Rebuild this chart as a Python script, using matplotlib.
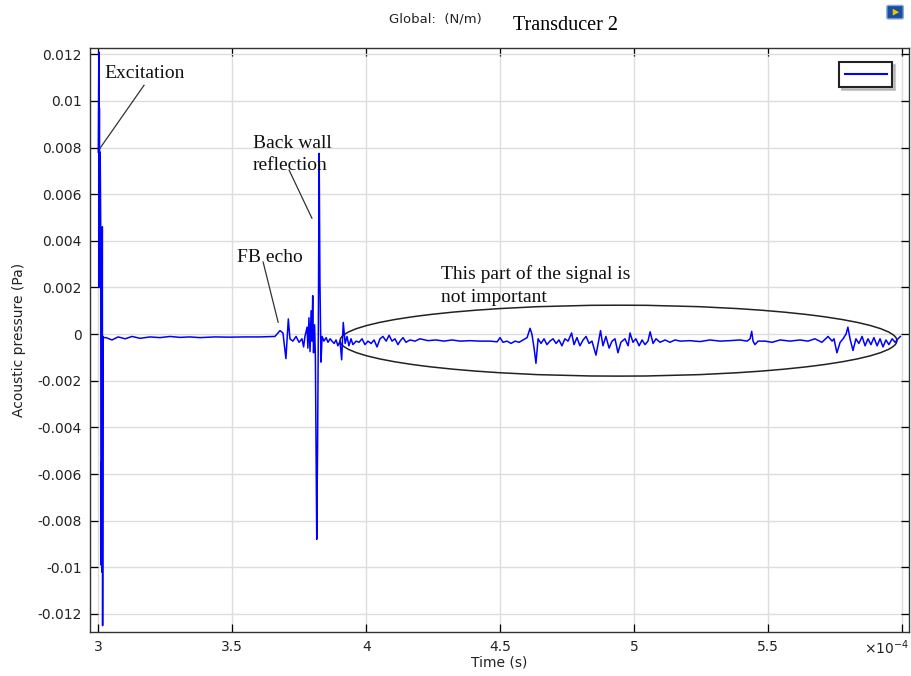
import matplotlib
matplotlib.use("Agg")
import matplotlib.pyplot as plt
from matplotlib.patches import Ellipse, FancyBboxPatch, Polygon
from matplotlib.lines import Line2D
from matplotlib.ticker import FuncFormatter, MultipleLocator

plt.rcParams['axes.unicode_minus'] = False
plt.rcParams['mathtext.fontset'] = 'dejavusans'

# time in microseconds, pressure in mPa
time_us = [300.0, 300.2, 300.3, 300.4, 300.5, 300.7, 300.9, 301.0, 301.1, 301.3,
           301.5, 301.6, 301.8, 301.9, 302.9, 305.1, 307.4, 310.0, 312.6, 315.6,
           319.3, 323.0, 326.8, 330.5, 334.2, 337.9, 343.5, 349.1, 354.7, 360.3,
           365.9, 367.8, 368.9, 370.0, 370.9, 371.5, 372.6, 373.8, 374.9, 376.0,
           376.6, 377.1, 377.9, 378.2, 378.6, 379.0, 379.4, 379.7, 380.0, 380.3,
           380.7, 381.0, 381.5, 381.8, 382.1, 382.4, 382.7, 383.1, 383.5, 384.2,
           385.0, 385.7, 386.5, 387.2, 388.0, 388.7, 389.4, 390.2, 390.8, 391.4,
           392.1, 392.8, 393.5, 394.3, 395.0, 396.2, 397.3, 398.4, 399.5, 400.6,
           401.8, 402.9, 404.0, 405.1, 406.2, 407.4, 408.5, 409.6, 410.7, 411.8,
           412.6, 413.7, 414.8, 416.3, 418.2, 420.0, 423.0, 426.0, 429.0, 432.0,
           435.0, 438.7, 442.4, 446.2, 448.8, 449.9, 451.0, 452.5, 454.0, 455.5,
           457.0, 458.5, 460.0, 461.1, 461.8, 462.6, 463.3, 464.1, 465.2, 466.3,
           467.4, 468.5, 469.7, 470.8, 471.9, 473.0, 474.1, 475.3, 476.6, 477.5,
           478.6, 479.7, 480.9, 482.0, 483.1, 484.2, 485.7, 486.5, 487.4, 488.3,
           489.4, 490.6, 491.7, 492.8, 493.9, 495.0, 496.5, 497.7, 498.4, 499.5,
           500.6, 501.8, 502.9, 504.0, 505.1, 505.9, 507.0, 508.1, 509.6, 511.5,
           513.3, 515.2, 517.1, 520.8, 524.5, 528.2, 532.0, 535.7, 539.4, 542.1,
           543.2, 543.8, 544.3, 545.0, 546.2, 548.8, 551.4, 554.4, 558.1, 561.8,
           564.8, 567.4, 570.0, 572.3, 573.8, 574.5, 575.6, 576.8, 577.9, 579.0,
           579.7, 580.5, 581.6, 582.7, 583.8, 585.0, 586.1, 587.2, 588.3, 589.4,
           590.6, 591.7, 592.8, 593.9, 595.0, 596.2, 597.3, 598.4, 599.3]
pressure_mpa = [7.8, 12.1, 2.0, 9.7, 2.0, 7.8, 4.6, -9.9, -5.5, -10.2,
                4.6, -12.5, -0.1, -0.15, -0.15, -0.25, -0.12, -0.20, -0.10, -0.18,
                -0.12, -0.15, -0.10, -0.14, -0.12, -0.15, -0.12, -0.13, -0.12, -0.12,
                -0.10, 0.15, 0.05, -1.05, 0.65, -0.2, -0.3, -0.1, -0.35, -0.2,
                -0.55, -0.1, 0.3, -0.6, 0.7, -0.75, 1.0, -0.3, 1.65, -0.8,
                0.4, -1.0, -8.8, -5.0, 0.1, 7.75, 2.2, -1.2, -0.1, -0.3,
                -0.15, -0.35, -0.2, -0.3, -0.4, -0.25, -0.5, -0.3, -1.1, 0.5,
                -0.4, -0.1, -0.5, -0.2, -0.45, -0.3, -0.35, -0.2, -0.45, -0.3,
                -0.4, -0.25, -0.55, -0.2, -0.1, -0.3, -0.05, -0.3, -0.2, -0.45,
                -0.3, -0.15, -0.35, -0.25, -0.3, -0.2, -0.28, -0.25, -0.3, -0.25,
                -0.3, -0.28, -0.3, -0.3, -0.33, -0.15, -0.35, -0.3, -0.4, -0.3,
                -0.35, -0.25, -0.15, 0.25, 0.0, -0.6, -1.25, -0.2, -0.4, -0.2,
                -0.45, -0.3, -0.2, -0.4, -0.25, -0.5, -0.2, -0.3, 0.05, -0.45,
                -0.15, -0.5, -0.25, -0.1, -0.4, -0.3, -0.9, -0.4, 0.15, -0.5,
                -0.1, -0.6, -0.3, -0.2, -0.8, -0.35, -0.2, -0.5, 0.05, -0.35,
                -0.2, -0.5, -0.25, -0.45, -0.3, 0.1, -0.4, -0.2, -0.35, -0.25,
                -0.35, -0.25, -0.3, -0.28, -0.32, -0.25, -0.3, -0.28, -0.25, -0.3,
                -0.2, 0.12, -0.3, -0.45, -0.3, -0.3, -0.35, -0.25, -0.3, -0.25,
                -0.3, -0.2, -0.35, -0.1, -0.3, -0.2, -0.8, -0.35, -0.2, 0.0,
                0.3, -0.2, -0.7, -0.2, -0.4, -0.1, -0.5, -0.2, -0.45, -0.15,
                -0.5, -0.2, -0.55, -0.25, -0.45, -0.2, -0.35, -0.2, -0.1]

t = [v * 1e-6 for v in time_us]
p = [v * 1e-3 for v in pressure_mpa]


def xfmt(v, pos):
    if v > 5.9e-4:
        return ''
    return f"{round(v * 1e4, 3):g}"


def yfmt(v, pos):
    if abs(v) < 1e-9:
        return '0'
    return f"{round(v, 4):g}"


fig = plt.figure(figsize=(9.11, 6.76), dpi=100)
ax = fig.add_axes([0.0988, 0.0655, 0.8993, 0.8639])

ax.plot(t, p, color='#0000ff', lw=1.1)

ax.set_xlim(296.9e-6, 602.6e-6)
ax.set_ylim(-0.01276, 0.01228)
ax.xaxis.set_major_locator(MultipleLocator(0.5e-4))
ax.yaxis.set_major_locator(MultipleLocator(0.002))
ax.xaxis.set_major_formatter(FuncFormatter(xfmt))
ax.yaxis.set_major_formatter(FuncFormatter(yfmt))
ax.grid(True, color='#dddddd', lw=1)
ax.set_axisbelow(True)
ax.tick_params(direction='in', top=True, right=True, length=6, width=0.9,
               labelsize=10, labelcolor='#222222', pad=6)
for s in ax.spines.values():
    s.set_color('#333333')
    s.set_linewidth(1.0)

ax.set_xlabel('Time (s)', fontsize=10, color='#222222', labelpad=1)
ax.set_ylabel('Acoustic pressure (Pa)', fontsize=10, color='#222222', labelpad=8)
ax.text(1.0, -0.027, r'$\times10^{-4}$', transform=ax.transAxes, ha='right',
        va='center', fontsize=10, color='#222222')

fig.text(0.4265, 0.972, 'Global:  (N/m)', fontsize=9.5, color='#222222',
         ha='left', va='center')
fig.text(0.563, 0.962, 'Transducer 2', fontsize=14.5, family='Liberation Serif',
         ha='left', va='center')

# legend box with an empty entry
leg = ax.legend([Line2D([], [], color='#0000ff', lw=1.5)], [''], loc='upper right',
                bbox_to_anchor=(0.979, 0.975), frameon=True, fancybox=False,
                shadow={'ox': 2, 'oy': -2, 'color': '#999999'},
                handlelength=3.0, handletextpad=0.0,
                borderpad=0.4, borderaxespad=0)
leg.get_frame().set_edgecolor('#222222')
leg.get_frame().set_linewidth(1.5)

# annotations
serif = dict(family='Liberation Serif', fontsize=14, color='#111111')
ax.text(302.1e-6, 0.01119, 'Excitation', ha='left', va='center', **serif)
ax.plot([317.05e-6, 300.63e-6], [0.01067, 0.00797], color='#333333', lw=0.9)

ax.text(357.7e-6, 0.0077, 'Back wall\nreflection', ha='left', va='center',
        linespacing=1.45, **serif)
ax.plot([371.2e-6, 379.7e-6], [0.00703, 0.00497], color='#333333', lw=0.9)

ax.text(351.8e-6, 0.0033, 'FB echo', ha='left', va='center', **serif)
ax.plot([361.5e-6, 367.1e-6], [0.00309, 0.00051], color='#333333', lw=0.9)

ax.text(427.9e-6, 0.0021, 'This part of the signal is\nnot important', ha='left',
        va='center', linespacing=1.45, **serif)
ax.add_patch(Ellipse((494.1e-6, -0.00028), 207.8e-6, 0.00304, fill=False,
                     edgecolor='#222222', lw=1.1))

# small toolbar icon, top right
fig.patches.append(FancyBboxPatch((0.9755, 0.974), 0.014, 0.016,
                                  boxstyle='round,pad=0.002', transform=fig.transFigure,
                                  facecolor='#1a4fa0', edgecolor='#8aa8d8', lw=1))
fig.patches.append(Polygon([(0.980, 0.977), (0.980, 0.987), (0.987, 0.982)], closed=True,
                           transform=fig.transFigure, facecolor='#f2c200', edgecolor='none'))

fig.savefig('out.png', dpi=100)
